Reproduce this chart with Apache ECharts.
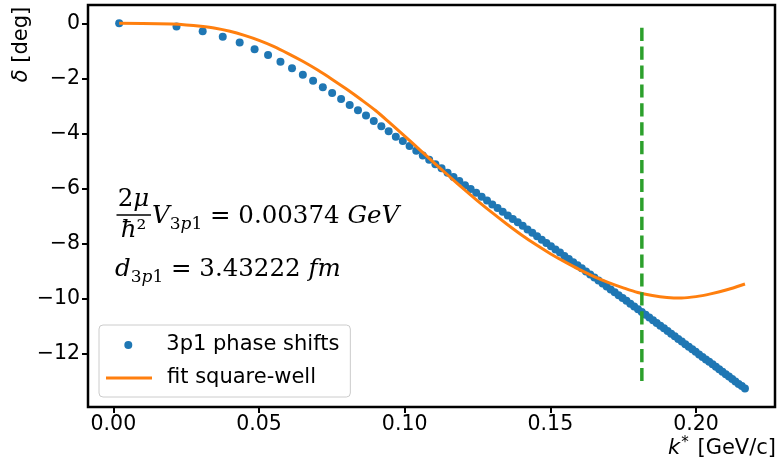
<!DOCTYPE html>
<html><head><meta charset="utf-8">
<script src="https://cdn.jsdelivr.net/npm/echarts@6/dist/echarts.min.js"></script>
<style>html,body{margin:0;padding:0;background:#fff}#c{width:780px;height:463px}</style>
</head><body><div id="c"></div>
<script>
// k* values [GeV/c] of the phase-shift points
const kData = [0.002, 0.02168, 0.03066, 0.03755, 0.04336, 0.04848, 0.05310, 0.05736, 0.06132, 0.06504, 0.06856, 0.07190, 0.07510, 0.07817, 0.08112, 0.08396, 0.08672, 0.08939, 0.09198, 0.09450, 0.09695, 0.09935, 0.10168, 0.10397, 0.10621, 0.10840, 0.11054, 0.11265, 0.11472, 0.11675, 0.11874, 0.12070, 0.12264, 0.12454, 0.12641, 0.12826, 0.13007, 0.13187, 0.13364, 0.13539, 0.13711, 0.13881, 0.14050, 0.14216, 0.14380, 0.14543, 0.14704, 0.14863, 0.15020, 0.15175, 0.15330, 0.15482, 0.15633, 0.15783, 0.15931, 0.16078, 0.16223, 0.16367, 0.16510, 0.16652, 0.16793, 0.16932, 0.17070, 0.17207, 0.17343, 0.17478, 0.17612, 0.17745, 0.17877, 0.18008, 0.18138, 0.18267, 0.18395, 0.18523, 0.18649, 0.18775, 0.18899, 0.19023, 0.19146, 0.19269, 0.19390, 0.19511, 0.19631, 0.19751, 0.19869, 0.19987, 0.20104, 0.20221, 0.20337, 0.20452, 0.20567, 0.20681, 0.20794, 0.20907, 0.21019, 0.21130, 0.21241, 0.21351, 0.21461, 0.21570, 0.21679];
// phase shifts [deg]
const deltaData = [0, -0.12, -0.29, -0.49, -0.70, -0.94, -1.15, -1.40, -1.63, -1.87, -2.09, -2.32, -2.53, -2.75, -2.97, -3.16, -3.35, -3.55, -3.74, -3.92, -4.12, -4.28, -4.46, -4.63, -4.80, -4.96, -5.12, -5.27, -5.43, -5.58, -5.73, -5.88, -6.02, -6.16, -6.30, -6.44, -6.58, -6.71, -6.85, -6.98, -7.11, -7.23, -7.36, -7.49, -7.61, -7.74, -7.86, -7.98, -8.10, -8.22, -8.33, -8.45, -8.56, -8.68, -8.79, -8.90, -9.02, -9.13, -9.24, -9.34, -9.45, -9.56, -9.67, -9.77, -9.88, -9.98, -10.08, -10.19, -10.29, -10.39, -10.49, -10.59, -10.69, -10.79, -10.89, -10.99, -11.08, -11.18, -11.28, -11.37, -11.47, -11.56, -11.66, -11.75, -11.84, -11.93, -12.03, -12.12, -12.21, -12.30, -12.39, -12.48, -12.57, -12.66, -12.75, -12.83, -12.92, -13.01, -13.10, -13.18, -13.27];
// square-well fit curve
const fitK = [0.002, 0.01, 0.02, 0.025, 0.03, 0.035, 0.04, 0.045, 0.05, 0.055, 0.06, 0.065, 0.07, 0.075, 0.08, 0.085, 0.09, 0.095, 0.10, 0.105, 0.11, 0.115, 0.12, 0.125, 0.13, 0.135, 0.14, 0.145, 0.15, 0.155, 0.16, 0.165, 0.17, 0.175, 0.18, 0.185, 0.19, 0.195, 0.20, 0.205, 0.21, 0.2168];
const fitDelta = [0, -0.004, -0.03, -0.06, -0.11, -0.18, -0.29, -0.44, -0.62, -0.84, -1.10, -1.38, -1.69, -2.03, -2.39, -2.77, -3.17, -3.63, -4.10, -4.58, -5.06, -5.53, -6.00, -6.45, -6.88, -7.29, -7.68, -8.04, -8.37, -8.67, -8.95, -9.20, -9.42, -9.61, -9.78, -9.89, -9.96, -9.98, -9.93, -9.83, -9.70, -9.47];
// vertical cut line
const cutK = [0.1814, 0.1814];
const cutDelta = [-13, 0];
// ticks
const xTicks = [0, 0.05, 0.10, 0.15, 0.20];
const yTicks = [-12, -10, -8, -6, -4, -2, 0];

const SANS = 'DejaVu Sans';
const SERIF = 'DejaVu Serif';
const zip = (a, b) => a.map((v, i) => [v, b[i]]);

const mathRich = {
  n: {fontFamily: SERIF, fontSize: 24.5, lineHeight: 32, fill: '#000'},
  i: {fontFamily: SERIF, fontSize: 24.5, lineHeight: 32, fontStyle: 'italic', fill: '#000'},
  s: {fontFamily: SERIF, fontSize: 17, lineHeight: 17, verticalAlign: 'bottom', fill: '#000'},
  si: {fontFamily: SERIF, fontSize: 17, lineHeight: 17, verticalAlign: 'bottom', fontStyle: 'italic', fill: '#000'}
};

const chart = echarts.init(document.getElementById('c'), null, {renderer: 'canvas'});
chart.setOption({
  animation: false,
  backgroundColor: '#fff',
  grid: {left: 88, right: 5, top: 5, bottom: 56, show: true, borderColor: '#000', borderWidth: 2.5, backgroundColor: 'transparent', containLabel: false, outerBoundsMode: 'none'},
  xAxis: {
    type: 'value', min: -0.0087, max: 0.2271,
    splitLine: {show: false},
    axisLine: {show: false, onZero: false},
    axisTick: {show: true, length: 6, customValues: xTicks, lineStyle: {color: '#000', width: 2}},
    axisLabel: {customValues: xTicks, formatter: v => v.toFixed(2), color: '#000', fontFamily: SANS, fontSize: 20.5, margin: 7.5}
  },
  yAxis: {
    type: 'value', min: -13.94, max: 0.664,
    splitLine: {show: false},
    axisLine: {show: false, onZero: false},
    axisTick: {show: true, length: 6, customValues: yTicks, lineStyle: {color: '#000', width: 2}},
    axisLabel: {customValues: yTicks, formatter: v => (v < 0 ? '\u2212' : '') + Math.abs(v), color: '#000', fontFamily: SANS, fontSize: 20.5, margin: 8}
  },
  legend: [
    {
      data: [{name: '3p1 phase shifts', icon: 'circle'}],
      left: 99, top: 325, orient: 'vertical',
      itemWidth: 46, itemHeight: 8,
      padding: [9.5, 11, 41.5, 25.3],
      backgroundColor: 'rgba(255,255,255,0.8)', borderColor: '#cccccc', borderWidth: 1, borderRadius: 4,
      selectedMode: false,
      itemStyle: {borderWidth: 0},
      textStyle: {fontFamily: SANS, fontSize: 21, color: '#000', padding: [0, 0, 0, 10]}
    },
    {
      data: [{name: 'fit square-well', icon: 'rect'}],
      left: 106, top: 367.5, orient: 'vertical',
      itemWidth: 46, itemHeight: 3, padding: 0,
      selectedMode: false,
      itemStyle: {borderWidth: 0},
      textStyle: {fontFamily: SANS, fontSize: 21, color: '#000', padding: [0, 0, 0, 10]}
    }
  ],
  series: [
    {
      name: '3p1 phase shifts', type: 'scatter', data: zip(kData, deltaData),
      symbol: 'circle', symbolSize: 8, color: '#1f77b4', itemStyle: {color: '#1f77b4', opacity: 1}, z: 2
    },
    {
      name: 'fit square-well', type: 'line', data: zip(fitK, fitDelta),
      showSymbol: false, symbol: 'none', smooth: 0.3, color: '#ff7f0e',
      lineStyle: {color: '#ff7f0e', width: 3}, itemStyle: {color: '#ff7f0e'}, z: 3
    },
    {
      name: 'cut', type: 'line', data: zip(cutK, cutDelta),
      showSymbol: false, symbol: 'none', silent: true,
      lineStyle: {color: '#2ca02c', width: 3.5, type: [13.2, 5.7]}, z: 4
    }
  ],
  graphic: [
    {type: 'text', x: 22, y: 44.5, rotation: Math.PI / 2, style: {
      text: '{i|δ}{n| [deg]}', align: 'center', verticalAlign: 'middle', textAlign: 'center', textVerticalAlign: 'middle',
      rich: {i: {fontFamily: SANS, fontSize: 21, fontStyle: 'italic', fill: '#000'}, n: {fontFamily: SANS, fontSize: 21, fill: '#000'}}
    }},
    {type: 'text', x: 776, y: 449, style: {
      text: '{i|k}{sup|*}{n| [GeV/c]}', align: 'right', verticalAlign: 'middle', textAlign: 'right', textVerticalAlign: 'middle',
      rich: {
        i: {fontFamily: SANS, fontSize: 21, lineHeight: 26, fontStyle: 'italic', fill: '#000'},
        sup: {fontFamily: SANS, fontSize: 15, lineHeight: 15, verticalAlign: 'top', fill: '#000', padding: [0, 2, 0, 1]},
        n: {fontFamily: SANS, fontSize: 21, lineHeight: 26, fill: '#000'}
      }
    }},
    {type: 'text', x: 133.5, y: 200, style: {
      text: '{n|2}{i|μ}', align: 'center', verticalAlign: 'middle', textAlign: 'center', textVerticalAlign: 'middle', rich: mathRich
    }},
    {type: 'line', shape: {x1: 116.5, y1: 215, x2: 151, y2: 215}, style: {stroke: '#000', lineWidth: 1.4}},
    {type: 'text', x: 133.5, y: 231, style: {
      text: '{i|ħ}{n|²}', align: 'center', verticalAlign: 'middle', textAlign: 'center', textVerticalAlign: 'middle', rich: mathRich
    }},
    {type: 'text', x: 152, y: 217, style: {
      text: '{i|V}{s|3}{si|p}{s|1}{n| = 0.00374 }{i|GeV}', align: 'left', verticalAlign: 'middle', textAlign: 'left', textVerticalAlign: 'middle', rich: mathRich
    }},
    {type: 'text', x: 115, y: 270, style: {
      text: '{i|d}{s|3}{si|p}{s|1}{n| = 3.43222 }{i|fm}', align: 'left', verticalAlign: 'middle', textAlign: 'left', textVerticalAlign: 'middle', rich: mathRich
    }}
  ]
});
</script>
</body></html>
